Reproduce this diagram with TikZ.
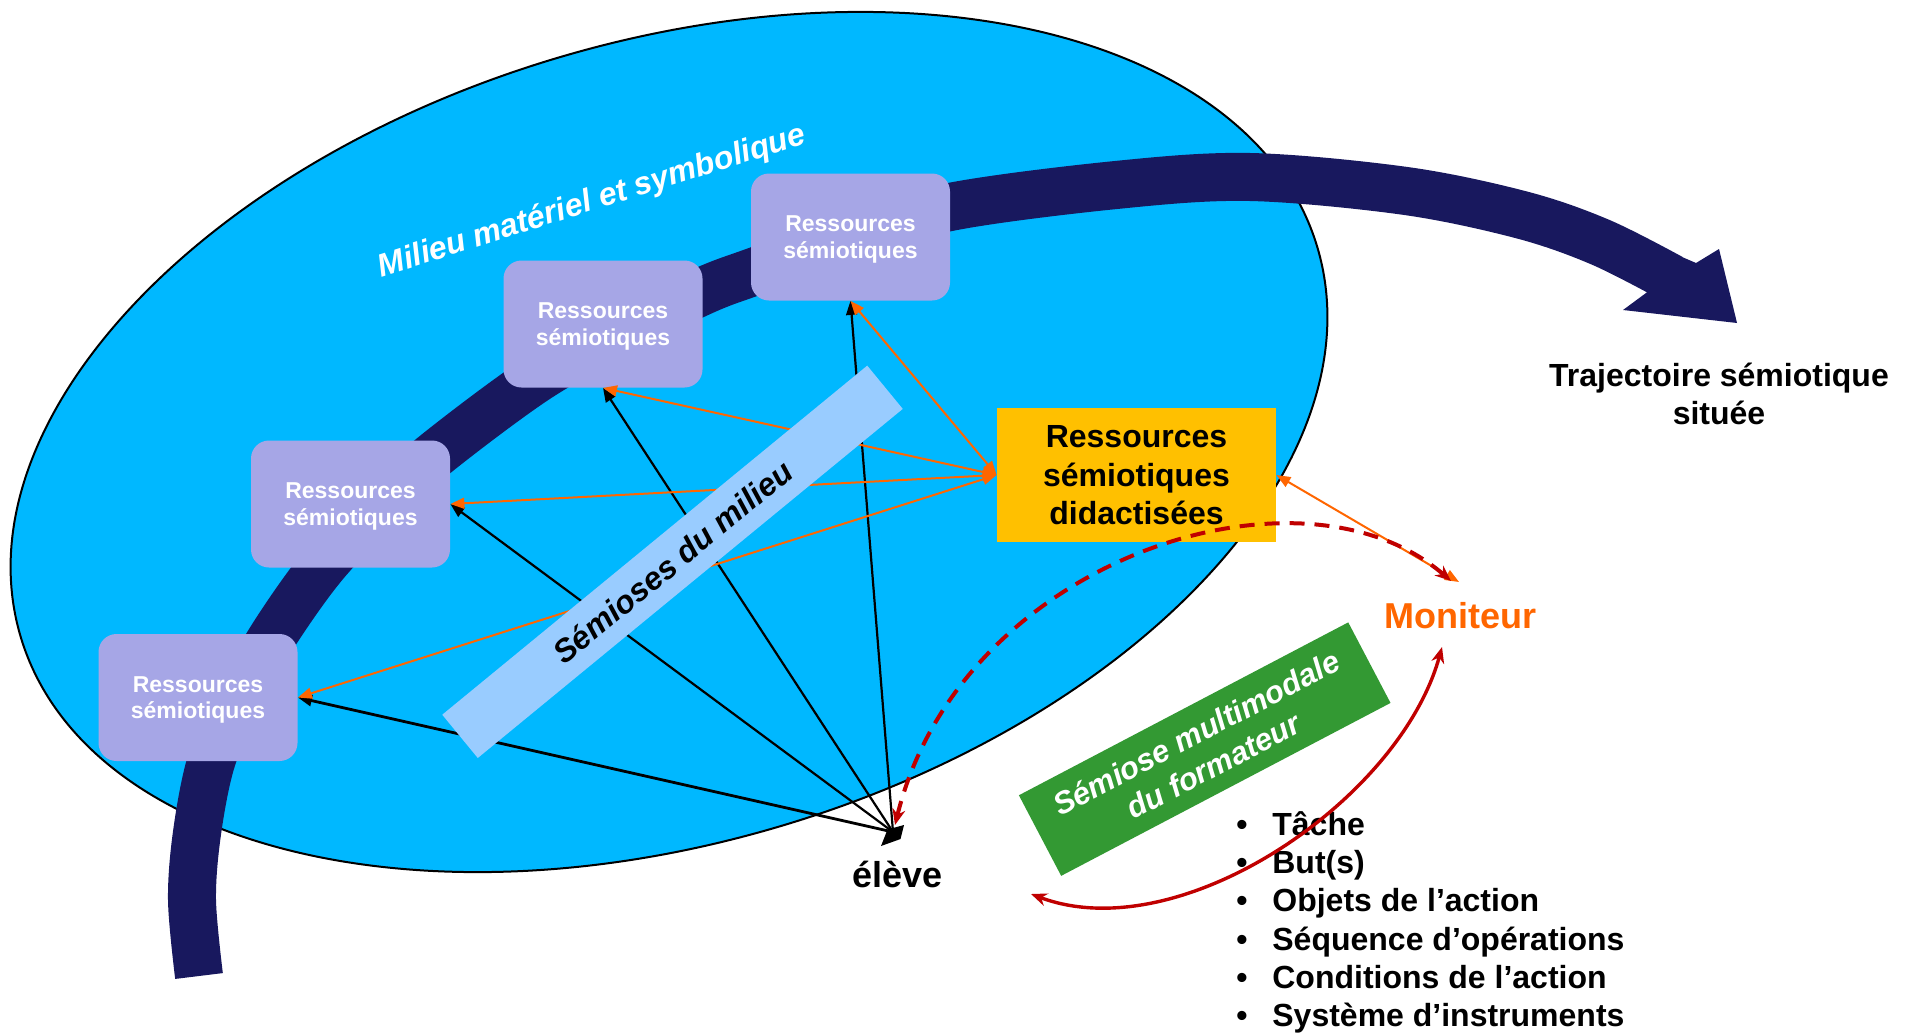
\documentclass[tikz,border=0pt]{standalone}
\usepackage{fontspec}
\setmainfont{Liberation Sans}
\usetikzlibrary{arrows.meta}
\definecolor{ellblue}{RGB}{0,184,255}
\definecolor{navyband}{RGB}{24,24,94}
\definecolor{lav}{RGB}{166,166,230}
\definecolor{lband}{RGB}{153,204,255}
\definecolor{goldbox}{RGB}{255,192,0}
\definecolor{grn}{RGB}{51,153,51}
\definecolor{orng}{RGB}{255,102,0}
\definecolor{dred}{RGB}{192,0,0}
\begin{document}
\begin{tikzpicture}[x=0.5pt,y=-0.5pt,
  resbox/.style={fill=lav, rounded corners=9pt, minimum width=99.5pt, minimum height=63.5pt,
    inner sep=0pt, align=center, text=white, text depth=0pt, font=\bfseries\fontsize{11.5}{13.4}\selectfont},
  blackarrow/.style={draw=black, line width=1.1pt, -{Triangle[length=7pt,width=5.5pt]}},
  orarrow/.style={draw=orng, line width=1pt, {Triangle[length=7pt,width=5.5pt]}-{Triangle[length=7pt,width=5.5pt]}},
  redarrow/.style={draw=dred, line width=1.7pt, {Stealth[length=8pt,width=6.5pt]}-{Stealth[length=8pt,width=6.5pt]}},
  bigtext/.style={font=\bfseries\fontsize{16}{19.25}\selectfont, align=center},
  listitem/.style={anchor=base west, inner sep=0pt, font=\bfseries\fontsize{16}{19}\selectfont}
]
\useasboundingbox (0,0) rectangle (1909,1033);
\fill[white] (0,0) rectangle (1909,1033);

% milieu ellipse
\draw[fill=ellblue, line width=1pt, rotate around={16.8:(669,442)}] (669,442) ellipse [x radius=338.5pt, y radius=200pt];

% trajectory band
\draw[navyband, line width=24pt] plot[smooth, tension=0.55] coordinates {
 (199,976) (192,900) (197,833) (211,762) (237,700) (273,636) (321,568) (375,510)
 (432,457) (535,380) (620,332) (703,291) (753,272) (850,238) (950,207) (1116,185)
 (1250,177) (1406,191) (1522,215) (1600,242) (1671,278)};
\fill[navyband] (1682,257) -- (1696,263) -- (1719,249) -- (1737,323) -- (1623,310) -- (1646,293) -- cycle;

% resource boxes
\node[resbox] (r1) at (198,697.5) {Ressources\\sémiotiques};
\node[resbox] (r2) at (350.5,504) {Ressources\\sémiotiques};
\node[resbox] (r3) at (603,324) {Ressources\\sémiotiques};
\node[resbox] (r4) at (850.5,237) {Ressources\\sémiotiques};

\node[fill=goldbox, minimum width=139.5pt, minimum height=67pt, inner sep=0pt, bigtext, text depth=0pt] (rsd) at (1136.5,475)
  {Ressources\\sémiotiques\\didactisées};

% labels
\node[text=orng, font=\bfseries\fontsize{18}{21}\selectfont, anchor=base, inner sep=0pt] (mon) at (1460.5,628) {Moniteur};
\node[font=\bfseries\fontsize{18}{21}\selectfont, anchor=base, inner sep=0pt] (elvtxt) at (897.5,887) {élève};
\node[bigtext] (traj) at (1719,394) {Trajectoire sémiotique\\située};

\coordinate (elv) at (893,832);
\coordinate (elvR) at (895,825);
\coordinate (monA) at (1459,582);
\coordinate (monR) at (1451,581);
\coordinate (monB) at (1442,647);
\coordinate (lftR) at (1031,894);

% black arrows from eleve
\draw[blackarrow, line width=1.4pt] (elv) -- (r1.east);
\draw[blackarrow] (elv) -- (r2.east);
\draw[blackarrow] (elv) -- (r3.south);
\draw[blackarrow] (elv) -- (r4.south);
\fill (881,846) -- (887.5,829.5) -- (904,825) -- (900.5,839) -- cycle;

% orange arrows
\draw[orarrow] (rsd.west) -- (r1.east);
\draw[orarrow] (rsd.west) -- (r2.east);
\draw[orarrow] (rsd.west) -- (r3.south);
\draw[orarrow] (rsd.west) -- (r4.south);
\draw[orarrow] (rsd.east) -- (monA);

% semioses band
\node[fill=lband, rotate=39.4, minimum width=275pt, minimum height=28pt, inner sep=0pt,
  font=\bfseries\itshape\fontsize{16}{19}\selectfont] (sem) at (672.5,561.8) {Sémioses du milieu};

\node[rotate=17.5, text=white, inner sep=0pt, font=\bfseries\itshape\fontsize{16}{19}\selectfont] (mil) at (592,202)
  {Milieu matériel et symbolique};

% green box
\node[fill=grn, rotate=27.7, minimum width=186pt, minimum height=45.5pt, inner sep=0pt, text=white, align=center,
  font=\bfseries\itshape\fontsize{15.5}{18.5}\selectfont] (grnbox) at (1204.7,749.1) {Sémiose multimodale\\du formateur};

% list
\node[listitem] (l1) at (1236,835.5) {\makebox[18pt][l]{•}Tâche};
\node[listitem] (l2) at (1236,873.7) {\makebox[18pt][l]{•}But(s)};
\node[listitem] (l3) at (1236,911.9) {\makebox[18pt][l]{•}Objets de l’action};
\node[listitem] (l4) at (1236,950.1) {\makebox[18pt][l]{•}Séquence d’opérations};
\node[listitem] (l5) at (1236,988.3) {\makebox[18pt][l]{•}Conditions de l’action};
\node[listitem] (l6) at (1236,1026.5) {\makebox[18pt][l]{•}Système d’instruments};

% red arrows
\draw[redarrow, line width=2pt, dash pattern=on 7.5pt off 5pt] (elvR) .. controls (960,560) and (1300,450) .. (monR);
\draw[redarrow] (lftR) .. controls (1180,950) and (1400,800) .. (monB);
\end{tikzpicture}
\end{document}
